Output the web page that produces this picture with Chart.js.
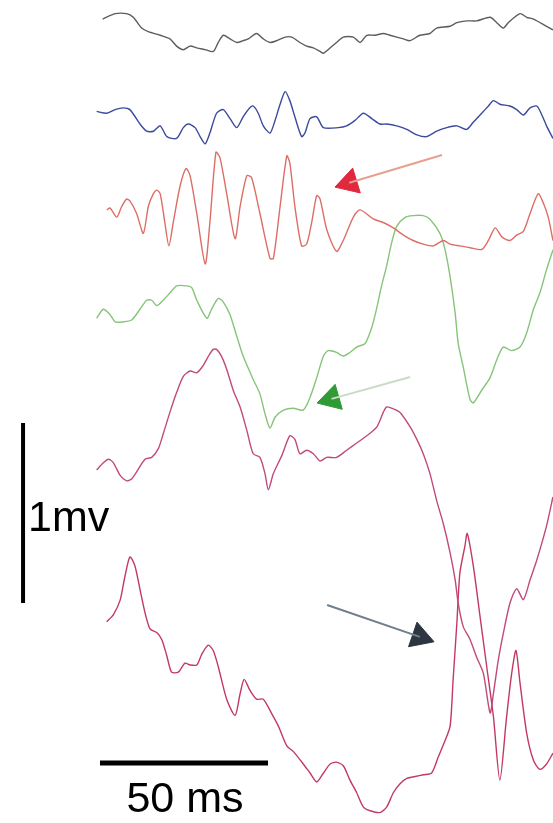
<!DOCTYPE html>
<html>
<head>
<meta charset="utf-8">
<script src="https://cdn.jsdelivr.net/npm/chart.js@4/dist/chart.umd.min.js"></script>
<style>
  html, body { margin: 0; padding: 0; background: #fff; }
  #wrap { width: 553px; height: 823px; }
</style>
</head>
<body>
<div id="wrap"><canvas id="traces" width="553" height="823"></canvas></div>
<script>
// time in ms, amplitude in mV (each trace relative to its own baseline)
const grayT = [0.8, 4.5, 7.9, 9.9, 12.4, 14.4, 17.9, 20.8, 22.8, 24.8, 26.8, 28.8, 31.3, 33.7, 35.2, 36.7, 38.7, 40.7, 42.6, 44.1, 46.6, 48.6, 50.6, 52.6, 55.1, 57.1, 59.5, 61.5, 63.5, 65.5, 66.5, 67.9, 70.4, 72.4, 75.4, 77.4, 79.4, 81.8, 84.3, 86.3, 90.3, 92.3, 95.2, 98.2, 100.2, 104.2, 106.2, 109.1, 112.1, 116.1, 118.1, 120.0, 121.5, 125.0, 127.0, 129.0, 132.9, 134.8];
const grayV = [0.06, 0.09, 0.09, 0.07, 0.01, -0.01, -0.03, -0.05, -0.09, -0.11, -0.09, -0.10, -0.11, -0.12, -0.07, -0.03, -0.05, -0.07, -0.06, -0.05, -0.02, -0.05, -0.07, -0.06, -0.04, -0.04, -0.07, -0.09, -0.10, -0.12, -0.13, -0.11, -0.07, -0.04, -0.04, -0.07, -0.03, -0.03, -0.02, -0.03, -0.05, -0.06, -0.03, -0.02, 0.01, 0.02, 0.04, 0.05, 0.05, 0.07, 0.04, 0.01, 0.04, 0.09, 0.07, 0.06, 0.02, 0];

const blueT = [-1.0, 2.0, 4.5, 6.9, 8.9, 11.9, 13.9, 15.9, 17.9, 19.9, 22.8, 24.8, 26.3, 28.3, 29.8, 31.3, 32.7, 34.7, 36.7, 38.7, 40.7, 42.6, 44.6, 45.6, 47.1, 48.6, 50.6, 52.1, 53.6, 55.1, 56.5, 58.0, 60.0, 61.0, 62.5, 64.5, 66.5, 70.9, 73.4, 75.9, 78.4, 80.9, 83.3, 85.3, 88.3, 91.3, 94.3, 97.2, 100.2, 103.2, 106.2, 109.1, 111.1, 113.6, 115.6, 117.1, 119.0, 122.0, 124.0, 126.0, 128.0, 130.0, 131.5, 132.9, 134.8];
const blueV = [0.02, 0.01, 0.03, 0.04, 0.03, -0.05, -0.09, -0.09, -0.06, -0.12, -0.13, -0.07, -0.05, -0.07, -0.12, -0.16, -0.10, 0.01, 0.03, -0.02, -0.07, -0.01, 0.04, 0.05, 0.01, -0.06, -0.10, -0.03, 0.06, 0.13, 0.08, -0.01, -0.12, -0.10, -0.02, -0.01, -0.07, -0.07, -0.06, -0.03, 0.01, -0.02, -0.05, -0.05, -0.06, -0.08, -0.11, -0.12, -0.09, -0.07, -0.06, -0.08, -0.04, 0.01, 0.05, 0.08, 0.06, 0.05, 0.03, 0, 0.04, 0.05, 0, -0.06, -0.13];

const redT = [2.0, 3.0, 5.0, 6.5, 7.9, 8.9, 10.9, 12.9, 14.4, 15.9, 16.9, 17.9, 19.3, 20.5, 21.8, 23.8, 25.6, 26.8, 28.8, 31.3, 32.7, 34.5, 35.7, 37.7, 40.2, 41.7, 43.7, 45.1, 47.6, 50.6, 51.6, 53.6, 55.6, 56.5, 58.0, 60.0, 61.5, 63.0, 64.5, 65.5, 67.5, 70.4, 72.4, 75.4, 77.4, 81.3, 84.3, 87.3, 90.3, 93.2, 96.2, 99.2, 102.2, 104.2, 107.1, 110.1, 113.6, 115.6, 117.6, 119.6, 122.0, 124.0, 126.0, 128.0, 130.4, 131.9, 133.4, 134.8];
const redV = [0, 0.01, -0.04, 0.02, 0.06, 0.05, -0.02, -0.13, 0.02, 0.09, 0.11, 0.09, -0.07, -0.20, -0.07, 0.13, 0.23, 0.19, -0.02, -0.30, -0.07, 0.32, 0.29, 0.09, -0.16, 0.02, 0.19, 0.18, -0.02, -0.27, -0.27, 0.02, 0.30, 0.26, 0.02, -0.20, -0.19, -0.07, 0.08, 0.06, -0.11, -0.23, -0.17, -0.04, 0, -0.05, -0.07, -0.10, -0.14, -0.17, -0.19, -0.20, -0.17, -0.19, -0.20, -0.21, -0.22, -0.17, -0.10, -0.15, -0.17, -0.14, -0.12, -0.02, 0.09, 0.04, -0.04, -0.17];

const greenT = [-1.0, 1.0, 3.0, 4.5, 6.9, 9.4, 11.9, 13.9, 15.4, 16.9, 18.8, 20.8, 22.8, 25.8, 27.3, 28.8, 31.8, 33.2, 35.2, 36.7, 38.7, 40.7, 42.6, 45.6, 47.6, 49.1, 50.6, 52.1, 54.6, 57.5, 60.5, 62.5, 64.5, 66.5, 67.9, 70.4, 72.4, 74.4, 76.4, 78.9, 80.9, 82.4, 83.8, 85.3, 86.8, 88.3, 90.8, 93.2, 96.2, 98.2, 101.2, 102.7, 104.2, 105.7, 106.6, 108.1, 110.1, 111.1, 113.6, 116.1, 118.1, 120.0, 122.5, 125.0, 127.0, 129.0, 130.9, 132.9, 134.8];
const greenV = [0.01, 0.06, 0.03, -0.01, -0.01, 0, 0.06, 0.11, 0.11, 0.08, 0.11, 0.15, 0.19, 0.19, 0.18, 0.11, 0.01, 0.06, 0.12, 0.10, 0.03, -0.09, -0.20, -0.33, -0.41, -0.52, -0.60, -0.54, -0.50, -0.49, -0.50, -0.43, -0.32, -0.20, -0.17, -0.18, -0.20, -0.18, -0.15, -0.13, -0.04, 0.07, 0.19, 0.30, 0.43, 0.52, 0.57, 0.58, 0.58, 0.56, 0.48, 0.39, 0.24, 0.04, -0.13, -0.26, -0.44, -0.46, -0.39, -0.32, -0.22, -0.15, -0.17, -0.15, -0.07, 0.06, 0.15, 0.28, 0.39];

const mauveT = [-1.0, 1.0, 2.5, 4.0, 6.0, 7.9, 9.4, 10.9, 13.4, 15.4, 17.4, 18.8, 20.8, 22.8, 24.8, 26.8, 28.8, 30.7, 32.2, 33.7, 34.7, 36.2, 37.7, 39.7, 41.7, 43.7, 45.6, 47.6, 49.1, 50.1, 51.6, 54.1, 56.5, 58.0, 59.5, 61.5, 63.5, 65.5, 67.5, 70.4, 73.4, 76.4, 79.4, 82.4, 84.3, 85.3, 87.3, 89.3, 92.3, 94.3, 96.2, 98.2, 100.2, 102.2, 104.2, 105.7, 106.6, 108.1, 110.1, 112.1, 114.1, 116.1, 117.1, 118.5, 120.0, 122.0, 124.0, 126.0, 128.0, 130.0, 132.9, 134.8];
const mauveV = [0, 0.04, 0.06, 0.04, -0.03, -0.06, -0.05, -0.01, 0.06, 0.07, 0.12, 0.20, 0.32, 0.43, 0.52, 0.55, 0.54, 0.58, 0.63, 0.67, 0.67, 0.63, 0.56, 0.44, 0.35, 0.22, 0.09, 0.07, -0.02, -0.11, -0.02, 0.08, 0.19, 0.17, 0.09, 0.11, 0.09, 0.05, 0.07, 0.07, 0.11, 0.15, 0.19, 0.24, 0.32, 0.35, 0.34, 0.32, 0.24, 0.17, 0.09, -0.02, -0.17, -0.30, -0.46, -0.61, -0.74, -0.87, -0.94, -1.04, -1.13, -1.35, -1.24, -1.06, -0.91, -0.74, -0.66, -0.72, -0.61, -0.50, -0.31, -0.15];

const lowT = [2.0, 4.0, 6.0, 7.4, 8.9, 10.4, 11.9, 13.4, 14.9, 16.9, 18.4, 19.9, 21.3, 23.3, 25.3, 26.8, 28.8, 30.3, 32.2, 33.7, 35.2, 37.7, 40.2, 41.7, 42.9, 44.6, 46.6, 48.6, 51.1, 53.1, 55.6, 57.5, 60.5, 62.5, 64.5, 66.5, 68.5, 70.4, 72.4, 74.4, 76.4, 78.4, 80.4, 83.3, 85.3, 87.3, 89.3, 91.3, 93.8, 96.2, 98.7, 100.7, 102.7, 104.2, 105.1, 106.2, 107.1, 108.6, 109.3, 111.1, 113.1, 115.1, 117.1, 119.0, 121.0, 122.5, 123.8, 125.0, 127.0, 129.0, 130.9, 132.9, 134.8];
const lowV = [-0.01, 0.03, 0.11, 0.24, 0.35, 0.30, 0.17, 0.04, -0.05, -0.07, -0.11, -0.20, -0.29, -0.29, -0.24, -0.25, -0.25, -0.19, -0.14, -0.17, -0.26, -0.44, -0.53, -0.41, -0.33, -0.39, -0.44, -0.44, -0.52, -0.59, -0.70, -0.73, -0.80, -0.85, -0.90, -0.85, -0.80, -0.79, -0.81, -0.89, -0.96, -1.04, -1.06, -1.07, -1.04, -0.96, -0.91, -0.88, -0.87, -0.86, -0.85, -0.76, -0.67, -0.59, -0.33, -0.02, 0.26, 0.41, 0.48, 0.30, 0.02, -0.26, -0.54, -0.89, -0.54, -0.30, -0.17, -0.35, -0.63, -0.78, -0.83, -0.80, -0.74];

// vertical position of each trace baseline (mV above the bottom edge)
const traceOffsets = [4.406, 3.933, 3.406, 2.794, 1.961, 1.128];
const traceColors = ['#5c5c5c', '#3b4a9c', '#dc6e66', '#86c47a', '#c04a7c', '#c23a62'];

// scale bars: 50 ms and 1 mV
const barTime = [0, 50];
const barTimeLevel = 0.333;
const barVoltX = -22.9;
const barVolt = [1.222, 2.222];

// arrows: [tail t, tail v, head t, head v, head rotation]
const arrowRed = [101.8, 3.711, 74.2, 3.557, 253];
const arrowGreen = [92.3, 2.478, 68.9, 2.356, 254];
const arrowDark = [67.6, 1.211, 95.2, 1.034, 109];

function trace(ts, vs, off, color) {
  return {
    data: ts.map((t, i) => ({ x: t, y: vs[i] + off })),
    borderColor: color,
    borderWidth: 1.4,
    tension: 0.25,
    pointRadius: 0,
    fill: false
  };
}

function arrow(a, lineColor, headColor) {
  return [{
    data: [{ x: a[0], y: a[1] }, { x: a[2], y: a[3] }],
    borderColor: lineColor,
    borderWidth: 2,
    pointRadius: 0,
    tension: 0
  }, {
    data: [{ x: a[2], y: a[3] }],
    showLine: false,
    pointStyle: 'triangle',
    pointRadius: 15,
    rotation: a[4],
    pointBackgroundColor: headColor,
    pointBorderColor: headColor,
    pointBorderWidth: 1
  }];
}

const datasets = [
  trace(grayT, grayV, traceOffsets[0], traceColors[0]),
  trace(blueT, blueV, traceOffsets[1], traceColors[1]),
  trace(redT, redV, traceOffsets[2], traceColors[2]),
  trace(greenT, greenV, traceOffsets[3], traceColors[3]),
  trace(mauveT, mauveV, traceOffsets[4], traceColors[4]),
  trace(lowT, lowV, traceOffsets[5], traceColors[5]),
  {
    data: barTime.map(t => ({ x: t, y: barTimeLevel })),
    borderColor: '#000', borderWidth: 5, pointRadius: 0
  },
  {
    data: barVolt.map(v => ({ x: barVoltX, y: v })),
    borderColor: '#000', borderWidth: 4, pointRadius: 0
  },
  ...arrow(arrowRed, '#e8a08c', '#e0283e'),
  ...arrow(arrowGreen, '#c8dcc4', '#2f9a36'),
  ...arrow(arrowDark, '#6f7f8e', '#2c3540')
];

// scale labels
const labelsPlugin = {
  id: 'scaleLabels',
  afterDatasetsDraw(chart) {
    const { ctx, scales } = chart;
    ctx.save();
    ctx.fillStyle = '#000';
    ctx.font = '43px "Liberation Sans", Arial, sans-serif';
    ctx.textBaseline = 'alphabetic';
    ctx.textAlign = 'left';
    ctx.fillText('1mv', scales.x.getPixelForValue(-21.4), scales.y.getPixelForValue(1.622));
    ctx.textAlign = 'center';
    ctx.fillText('50 ms', scales.x.getPixelForValue(25.3), scales.y.getPixelForValue(0.061));
    ctx.restore();
  }
};

new Chart(document.getElementById('traces'), {
  type: 'line',
  data: { datasets: datasets },
  options: {
    responsive: false,
    animation: false,
    layout: { padding: 0, autoPadding: false },
    plugins: { legend: { display: false }, tooltip: { enabled: false } },
    scales: {
      x: { type: 'linear', display: false, min: -29.76, max: 134.82 },
      y: { type: 'linear', display: false, min: 0, max: 4.572 }
    }
  },
  plugins: [labelsPlugin]
});
</script>
</body>
</html>
